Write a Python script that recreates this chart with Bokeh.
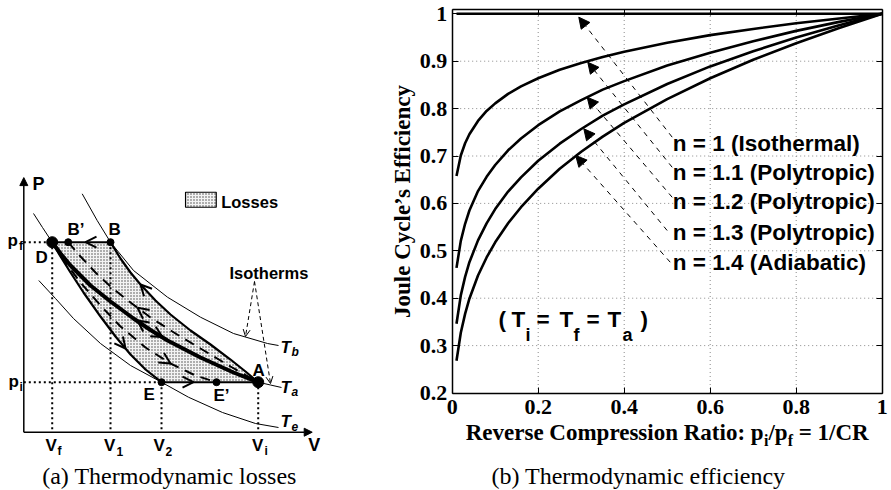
import math
from bokeh.plotting import figure
from bokeh.models import (Range1d, LinearAxis, FixedTicker, Arrow, NormalHead,
                          OpenHead, ColumnDataSource)
from bokeh.layouts import row
from bokeh.embed import file_html
from bokeh.resources import INLINE
from bokeh.core.properties import value

SANS = "Liberation Sans"
SERIF = "Liberation Serif"
MID = 0.345   # distance (in em) from the alphabetic baseline up to the text box middle

# ======================= Panel (b) data =======================
ratio = [0.01, 0.02, 0.03, 0.04, 0.06, 0.08, 0.10, 0.13, 0.16, 0.20,
         0.25, 0.30, 0.35, 0.40, 0.50, 0.60, 0.70, 0.80, 0.90, 1.00]
eff_n10 = [1.0, 1.0, 1.0, 1.0, 1.0, 1.0, 1.0, 1.0, 1.0, 1.0,
           1.0, 1.0, 1.0, 1.0, 1.0, 1.0, 1.0, 1.0, 1.0, 1.0]
eff_n11 = [0.658, 0.701, 0.727, 0.746, 0.774, 0.795, 0.811, 0.831, 0.847, 0.864,
           0.882, 0.896, 0.909, 0.920, 0.939, 0.955, 0.968, 0.980, 0.990, 1.000]
eff_n12 = [0.464, 0.521, 0.557, 0.585, 0.626, 0.656, 0.681, 0.712, 0.737, 0.765,
           0.794, 0.818, 0.840, 0.858, 0.891, 0.918, 0.942, 0.964, 0.983, 1.000]
eff_n13 = [0.346, 0.406, 0.445, 0.476, 0.522, 0.558, 0.588, 0.625, 0.655, 0.690,
           0.726, 0.757, 0.785, 0.809, 0.852, 0.889, 0.921, 0.950, 0.976, 1.000]
eff_n14 = [0.268, 0.327, 0.367, 0.399, 0.448, 0.486, 0.518, 0.558, 0.592, 0.631,
           0.673, 0.709, 0.741, 0.770, 0.820, 0.864, 0.903, 0.938, 0.970, 1.000]

curve_labels = ["n = 1 (Isothermal)", "n = 1.1 (Polytropic)", "n = 1.2 (Polytropic)",
                "n = 1.3 (Polytropic)", "n = 1.4 (Adiabatic)"]
label_x = [0.513, 0.513, 0.513, 0.513, 0.513]
label_y = [0.7095, 0.6487, 0.5880, 0.5218, 0.4586]   # baselines

arrow_tip_x = [0.2944, 0.3153, 0.3139, 0.3061, 0.2872]
arrow_tip_y = [0.9929, 0.8979, 0.8241, 0.7574, 0.7011]
arrow_tail_x = [0.5116, 0.5116, 0.5116, 0.4999, 0.5070]
arrow_tail_y = [0.7397, 0.6762, 0.6129, 0.5428, 0.4760]

x_ticks = [0, 0.2, 0.4, 0.6, 0.8, 1]
x_tick_labels = ["0", "0.2", "0.4", "0.6", "0.8", "1"]
y_ticks = [0.2, 0.3, 0.4, 0.5, 0.6, 0.7, 0.8, 0.9, 1]
y_tick_labels = ["0.2", "0.3", "0.4", "0.5", "0.6", "0.7", "0.8", "0.9", "1"]
X_LIM = (0, 1)
Y_LIM = (0.2, 1.0091)

# ======================= Panel (a) data (schematic p-V) =======================
V_f, V_1, V_2, V_i = 0.1212, 0.3699, 0.5875, 1.0
p_i, p_f = 0.2632, 1.0
V_Bp, V_Ep = 0.1894, 0.8221

iso_V = [0.1212, 0.1566, 0.1992, 0.2846, 0.3699, 0.4680, 0.5405, 0.6131, 0.7538, 0.8946, 1.0]
iso_P = [1.0, 0.9405, 0.8774, 0.7721, 0.6879, 0.5984, 0.5379, 0.4826, 0.3932, 0.3142, 0.2632]
up_V = [0.3699, 0.4125, 0.4552, 0.4979, 0.5619, 0.6258, 0.7112, 0.7965, 0.8818, 0.9458, 1.0]
up_P = [1.0, 0.9142, 0.8405, 0.7774, 0.6932, 0.6195, 0.5353, 0.4616, 0.3826, 0.3195, 0.2632]
lo_V = [0.1212, 0.1566, 0.1992, 0.2547, 0.3272, 0.3912, 0.4552, 0.5192, 0.5875]
lo_P = [1.0, 0.9247, 0.8405, 0.7353, 0.6089, 0.5037, 0.4089, 0.3300, 0.2632]
upd_V = [0.1894, 0.2419, 0.3059, 0.3699, 0.4552, 0.5405, 0.6472, 0.7538, 0.8818, 1.0]
upd_P = [1.0, 0.9247, 0.8405, 0.7668, 0.6826, 0.6037, 0.5195, 0.4405, 0.3458, 0.2632]
lod_V = [0.1212, 0.1779, 0.2419, 0.3272, 0.4125, 0.5192, 0.6258, 0.7325, 0.8221]
lod_P = [1.0, 0.8932, 0.7879, 0.6668, 0.5563, 0.4458, 0.3616, 0.2984, 0.2632]
Tb_V = [0.2491, 0.3131, 0.3699, 0.4680, 0.6131, 0.7538, 0.8946, 1.0397, 1.0866]
Tb_P = [1.2547, 1.1142, 1.0, 0.8511, 0.7105, 0.6053, 0.5195, 0.4668, 0.4563]
Ta_V = [0.0414, 0.0798] + iso_V + [1.0525, 1.0994]
Ta_P = [1.1511, 1.0774] + iso_P + [0.2484, 0.2353]
Te_V = [0.0640, 0.1352, 0.2120, 0.3272, 0.4552, 0.5875, 0.7026, 0.8477, 0.9885, 1.0866]
Te_P = [0.7984, 0.7037, 0.5984, 0.4668, 0.3511, 0.2632, 0.1842, 0.1037, 0.0458, 0.0247]

# ======================= Panel (b) figure =======================
PX0, PX1, PY0, PY1 = 451.7, 881.7, 13.3, 392.5   # page pixels of x=0, x=1, y=1, y=0.2
sx = (PX1 - PX0) / 1.0
sy = (PY1 - PY0) / 0.8
XR = Range1d(X_LIM[0] + (330 - PX0) / sx, X_LIM[0] + (891 - PX0) / sx)
YR = Range1d(1 - (490 - PY0) / sy, 1 + PY0 / sy)
pb = figure(width=561, height=490, x_range=XR, y_range=YR, output_backend="svg",
            toolbar_location=None, min_border=0, x_axis_location=None, y_axis_location=None)
pb.grid.visible = False
pb.outline_line_color = None
pb.background_fill_color = "white"
pb.border_fill_color = "white"

def mk_axis(ticks, labels, loc, bounds, show):
    return LinearAxis(ticker=FixedTicker(ticks=ticks), fixed_location=loc, bounds=bounds,
                      major_tick_in=6, major_tick_out=0, minor_tick_line_color=None,
                      axis_line_width=1.5, axis_line_color="black",
                      major_tick_line_color="black",
                      major_label_overrides=dict(zip(ticks, labels)),
                      major_label_text_font=SERIF, major_label_text_font_style="bold",
                      major_label_text_font_size="22px",
                      major_label_text_color="black" if show else None)

xb = mk_axis(x_ticks, x_tick_labels, Y_LIM[0], X_LIM, True)
xb.major_label_standoff = 7
pb.add_layout(xb, "below")
yl = mk_axis(y_ticks, y_tick_labels, X_LIM[0], Y_LIM, True)
yl.major_label_standoff = 5
pb.add_layout(yl, "left")
pb.add_layout(mk_axis(x_ticks, x_tick_labels, Y_LIM[1], X_LIM, False), "above")
pb.add_layout(mk_axis(y_ticks, y_tick_labels, X_LIM[1], Y_LIM, False), "right")

gx = x_ticks[1:-1]
gy = y_ticks[1:-1]
pb.segment(x0=gx, y0=[Y_LIM[0]] * len(gx), x1=gx, y1=[Y_LIM[1]] * len(gx),
           line_color="#8a8a8a", line_dash="1 3", line_width=1)
pb.segment(x0=[X_LIM[0]] * len(gy), y0=gy, x1=[X_LIM[1]] * len(gy), y1=gy,
           line_color="#8a8a8a", line_dash="1 3", line_width=1)

for eff in (eff_n10, eff_n11, eff_n12, eff_n13, eff_n14):
    pb.line(ratio, eff, line_width=2.6, line_color="black")

def bx(px):
    return X_LIM[0] + (px - PX0) / sx
def by(py):
    return 1 - (py - PY0) / sy

def btext(xs, base_px, texts, size, font=SANS, style="bold", align="left"):
    pb.text(x=xs, y=[by(b - MID * size) for b in base_px], text=texts, text_font=value(font),
            text_font_style=style, text_font_size=f"{size}px", text_baseline="middle",
            text_align=align, text_color="black")

btext(label_x, [PY0 + (1 - v) * sy for v in label_y], curve_labels, 22.5)

arr_src = ColumnDataSource(dict(x0=arrow_tail_x, y0=arrow_tail_y, x1=arrow_tip_x, y1=arrow_tip_y))
pb.add_layout(Arrow(source=arr_src, x_start="x0", y_start="y0", x_end="x1", y_end="y1",
                    line_dash="5 5", line_width=1, line_color="black",
                    end=NormalHead(size=11, fill_color="black", line_color="black", line_width=1)))

# ( T_i = T_f = T_a ) annotation, piece by piece
t_pieces = ["(", "T", "i", "=", "T", "f", "=", "T", "a", ")"]
t_px = [498, 511, 525, 536, 559, 573, 586, 607, 622, 640]
t_sub = [False, False, True, False, False, True, False, False, True, False]
mx = [bx(p) for p, s in zip(t_px, t_sub) if not s]
btext(mx, [327] * len(mx), [t for t, s in zip(t_pieces, t_sub) if not s], 22.5)
sxs = [bx(p) for p, s in zip(t_px, t_sub) if s]
btext(sxs, [341] * len(sxs), [t for t, s in zip(t_pieces, t_sub) if s], 18)

# y axis title (rotated)
pb.text(x=[bx(402)], y=[by(201)], text=["Joule Cycle\u2019s Efficiency"], angle=math.pi / 2,
        text_font=value(SERIF), text_font_style="bold", text_font_size="23px",
        text_align="center", text_baseline="middle", text_color="black")

# x axis title with subscripts (Times-Bold advance widths per 1000 em)
TB = {'R': 722, 'e': 444, 'v': 500, 'r': 444, 's': 389, ' ': 250, 'C': 722, 'o': 500,
      'm': 833, 'p': 556, 'i': 278, 'n': 556, 'a': 500, 't': 333, ':': 333, '/': 278,
      '=': 570, '1': 500, 'f': 333}
def tw(s, size):
    return sum(TB[c] for c in s) * size / 1000.0
MAIN, SUB = 23, 16
pieces = [("Reverse Compression Ratio: p", MAIN, 0.0), ("i", SUB, 0.0), ("/p", MAIN, 0.0),
          ("f", SUB, 0.0), ("= 1/CR", MAIN, tw(" ", MAIN))]
total = sum(tw(t, s) + pre for t, s, pre in pieces)
cur = (PX0 + PX1) / 2 - total / 2
for t, s, pre in pieces:
    cur += pre
    btext([bx(cur)], [440 if s == MAIN else 446], [t], s, font=SERIF)
    cur += tw(t, s)

btext([bx(638)], [484], ["(b) Thermodynamic efficiency"], 24, font=SERIF, style="normal",
      align="center")

# ======================= Panel (a) figure =======================
AS = 190.0   # px per P unit
pa = figure(width=330, height=490, x_range=Range1d(-0.0994, 1.3084),
            y_range=Range1d(-0.3068, 2.2721), output_backend="svg", toolbar_location=None,
            min_border=0, x_axis_location=None, y_axis_location=None)
pa.grid.visible = False
pa.outline_line_color = None
pa.background_fill_color = "white"
pa.border_fill_color = "white"

hatch = dict(fill_color="#f4f4f4", hatch_pattern="dot", hatch_scale=3, hatch_color="#444444",
             hatch_weight=1)
pa.patch(lo_V + up_V[::-1], lo_P + up_P[::-1], line_color=None, **hatch)
pa.quad(left=[0.690], right=[0.821], bottom=[1.184], top=[1.263], line_color="black",
        line_width=1.2, **hatch)

for xs, ys in ((Tb_V, Tb_P), (Ta_V, Ta_P), (Te_V, Te_P)):
    pa.line(xs, ys, line_width=1, line_color="black")

pa.segment(x0=[0, 0, V_f, V_1, V_2, V_i], y0=[p_f, p_i, p_f, p_f, p_i, p_i],
           x1=[V_f, V_2, V_f, V_1, V_2, V_i], y1=[p_f, p_i, 0, 0, 0, 0],
           line_dash="2 3", line_width=2, line_color="black")

pa.line(upd_V, upd_P, line_width=2, line_dash="10 7", line_color="black")
pa.line(lod_V, lod_P, line_width=2, line_dash="10 7", line_color="black")
pa.line(up_V, up_P, line_width=2.2, line_color="black")
pa.line(lo_V, lo_P, line_width=2.2, line_color="black")
pa.line(iso_V, iso_P, line_width=4, line_color="black")
pa.segment(x0=[V_1, V_2], y0=[p_f, p_i], x1=[V_f, V_i], y1=[p_f, p_i], line_width=2,
           line_color="black")

pa.add_layout(Arrow(x_start=0, y_start=0, x_end=1.2304, y_end=0, line_width=1.5,
                    end=NormalHead(size=8, fill_color="black", line_color="black")))
pa.add_layout(Arrow(x_start=0, y_start=0, x_end=0, y_end=1.34, line_width=1.5,
                    end=NormalHead(size=8, fill_color="black", line_color="black")))

dir_src = ColumnDataSource(dict(
    x0=[0.3272, 0.6600, 0.5619, 0.3699, 0.5405, 0.5405, 0.5405, 0.5704],
    y0=[1.0, 0.2632, 0.6932, 0.5389, 0.5379, 0.5379, 0.6037, 0.4037],
    x1=[0.2632, 0.7240, 0.4979, 0.4339, 0.4851, 0.5917, 0.4851, 0.6258],
    y1=[1.0, 0.2632, 0.7774, 0.4405, 0.5879, 0.5011, 0.6547, 0.3616]))
pa.add_layout(Arrow(source=dir_src, x_start="x0", y_start="y0", x_end="x1", y_end="y1",
                    line_alpha=0, end=OpenHead(size=11, line_width=2, line_color="black")))

iso_src = ColumnDataSource(dict(x0=[0.9842, 0.9842], y0=[0.7932, 0.7932],
                                x1=[0.9458, 1.0525], y1=[0.5037, 0.2563]))
pa.add_layout(Arrow(source=iso_src, x_start="x0", y_start="y0", x_end="x1", y_end="y1",
                    line_dash="4 3", line_width=1, line_color="black",
                    end=OpenHead(size=7, line_width=1, line_color="black")))

pa.scatter([V_f, V_i], [p_f, p_i], size=11, color="black")
pa.scatter([V_Bp, V_1, V_2, V_Ep], [p_f, p_f, p_i, p_i], size=7, color="black")

def ttext(x, y, t, size, style="bold", align="left", font=SANS):
    # y is the alphabetic baseline in data units
    pa.text(x=[x], y=[y + MID * size / AS], text=[t], text_font=value(font),
            text_font_style=style, text_font_size=f"{size}px", text_baseline="middle",
            text_align=align, text_color="black")

ttext(0.0371, 1.2721, "P", 18)
ttext(1.2138, -0.1016, "V", 18)
for t, x, y in (("D", 0.0499, 0.8868), ("B\u2019", 0.1864, 1.0353), ("B", 0.3618, 1.0353),
                ("A", 0.9757, 0.2932), ("E", 0.5111, 0.1668), ("E\u2019", 0.8094, 0.1616)):
    ttext(x, y, t, 17)
for sub, xm, xs in (("f", 0.0926, 0.1438), ("1", 0.3422, 0.3955), ("2", 0.5533, 0.6045),
                    ("i", 0.9735, 1.0269)):
    ttext(xm, -0.1016, "V", 17)
    ttext(xs, -0.1226, sub, 12)
ttext(-0.0695, 0.9774, "p", 17)
ttext(-0.0205, 0.9563, "f", 12)
ttext(-0.0653, 0.2353, "p", 17)
ttext(-0.0183, 0.2142, "i", 12)
ttext(0.8421, 1.1826, "Losses", 16.5)
ttext(0.8776, 0.8089, "Isotherms", 16.5)
for sub, ym, ys in (("b", 0.4142, 0.3984), ("a", 0.2037, 0.1879), ("e", 0.0247, 0.0089)):
    ttext(1.0951, ym, "T", 17, style="bold italic")
    ttext(1.1421, ys, sub, 12, style="bold italic")
ttext(0.6216, -0.2753, "(a) Thermodynamic losses", 24, style="normal", align="center",
      font=SERIF)

layout = row(pa, pb)
open("out.html", "w").write(file_html(layout, INLINE))
